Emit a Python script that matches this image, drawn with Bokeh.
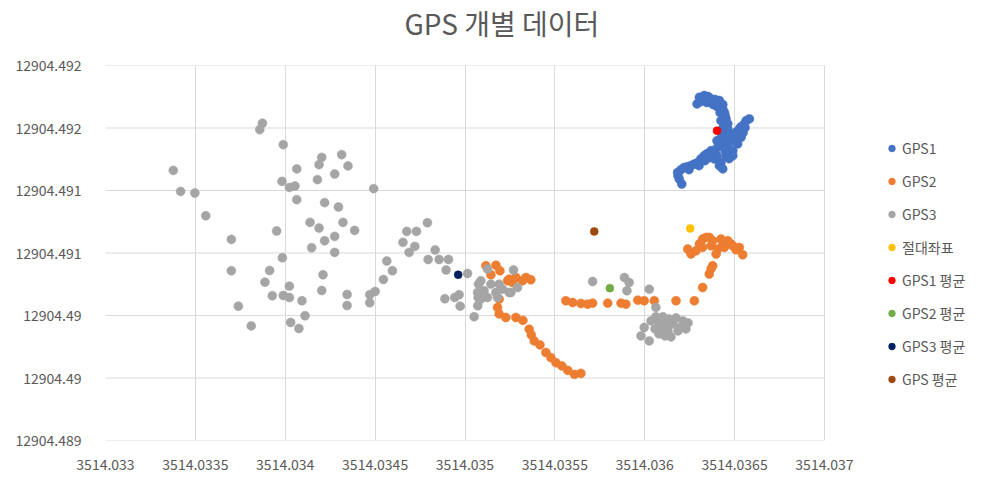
from bokeh.plotting import figure
from bokeh.models import (FixedTicker, CustomJSTickFormatter, Legend, LegendItem, Range1d, Title)
from bokeh.embed import file_html
from bokeh.resources import INLINE

# ---------------- data ----------------
gps1_x = [3514.036291, 3514.036304, 3514.036331, 3514.036352, 3514.036369, 3514.036391, 3514.036415, 3514.036434,
          3514.036434, 3514.036443, 3514.036447, 3514.036452, 3514.036462, 3514.036462, 3514.036452, 3514.036452,
          3514.036582, 3514.036564, 3514.036554, 3514.036536, 3514.036526, 3514.036508, 3514.036490, 3514.036474,
          3514.036517, 3514.036536,
          3514.036424, 3514.036443, 3514.036434, 3514.036462, 3514.036471, 3514.036490, 3514.036490, 3514.036452,
          3514.036406, 3514.036387, 3514.036424, 3514.036415, 3514.036434, 3514.036469,
          3514.036369, 3514.036346, 3514.036331, 3514.036313, 3514.036295, 3514.036274, 3514.036257, 3514.036238,
          3514.036220, 3514.036202, 3514.036183, 3514.036185, 3514.036192, 3514.036206,
          3514.036313, 3514.036346, 3514.036380, 3514.036402, 3514.036419, 3514.036424, 3514.036436, 3514.036424,
          3514.036558, 3514.036525, 3514.036497, 3514.036547,
          3514.036385, 3514.036402, 3514.036447, 3514.036469, 3514.036402,
          3514.036302, 3514.036335, 3514.036358, 3514.036246]
gps1_y = [12904.491693, 12904.491746, 12904.491760, 12904.491752, 12904.491733, 12904.491728, 12904.491720, 12904.491688,
          12904.491653, 12904.491626, 12904.491600, 12904.491573, 12904.491535, 12904.491493, 12904.491455, 12904.491413,
          12904.491573, 12904.491559, 12904.491533, 12904.491511, 12904.491493, 12904.491466, 12904.491439, 12904.491407,
          12904.491373, 12904.491426,
          12904.491413, 12904.491426, 12904.491359, 12904.491346, 12904.491319, 12904.491319, 12904.491279, 12904.491279,
          12904.491346, 12904.491253, 12904.491225, 12904.491199, 12904.491173, 12904.491383,
          12904.491319, 12904.491295, 12904.491279, 12904.491255, 12904.491225, 12904.491211, 12904.491199, 12904.491191,
          12904.491185, 12904.491167, 12904.491145, 12904.491119, 12904.491092, 12904.491052,
          12904.491712, 12904.491704, 12904.491688, 12904.491672, 12904.491623, 12904.491559, 12904.491503, 12904.491463,
          12904.491503, 12904.491455, 12904.491399, 12904.491463,
          12904.491319, 12904.491279, 12904.491319, 12904.491255, 12904.491399,
          12904.491199, 12904.491239, 12904.491263, 12904.491167]

gps2_x = [3514.035116, 3514.035172, 3514.035194, 3514.035144, 3514.035237, 3514.035283, 3514.035339, 3514.035366,
          3514.035265, 3514.035320, 3514.035246,
          3514.035190, 3514.035181, 3514.035190, 3514.035227, 3514.035283, 3514.035322, 3514.035357, 3514.035369,
          3514.035385, 3514.035417, 3514.035450, 3514.035478, 3514.035506, 3514.035539, 3514.035572, 3514.035609,
          3514.035645,
          3514.035561, 3514.035599, 3514.035645, 3514.035682, 3514.035710, 3514.035794, 3514.035868, 3514.035895,
          3514.035961, 3514.035997, 3514.036053, 3514.036174, 3514.036276, 3514.036322, 3514.036359, 3514.036378,
          3514.036397, 3514.036369,
          3514.036239, 3514.036257, 3514.036285, 3514.036304, 3514.036322, 3514.036322, 3514.036341, 3514.036359,
          3514.036369, 3514.036378, 3514.036406, 3514.036424, 3514.036434, 3514.036443, 3514.036462, 3514.036480,
          3514.036490, 3514.036526, 3514.036508, 3514.036545]
gps2_y = [12904.490398, 12904.490402, 12904.490358, 12904.490326, 12904.490278, 12904.490304, 12904.490304, 12904.490286,
          12904.490264, 12904.490278, 12904.490291,
          12904.490131, 12904.490064, 12904.490013, 12904.489984, 12904.489984, 12904.489961, 12904.489891, 12904.489845,
          12904.489797, 12904.489765, 12904.489704, 12904.489663, 12904.489623, 12904.489597, 12904.489561, 12904.489529,
          12904.489537,
          12904.490118, 12904.490104, 12904.490096, 12904.490091, 12904.490099, 12904.490099, 12904.490099, 12904.490091,
          12904.490123, 12904.490118, 12904.490118, 12904.490118, 12904.490118, 12904.490224, 12904.490332, 12904.490398,
          12904.490492, 12904.490374,
          12904.490532, 12904.490492, 12904.490518, 12904.490572, 12904.490612, 12904.490545, 12904.490625, 12904.490625,
          12904.490558, 12904.490598, 12904.490532, 12904.490612, 12904.490585, 12904.490545, 12904.490598, 12904.490572,
          12904.490558, 12904.490545, 12904.490526, 12904.490486]

gps3_x = [3514.033873, 3514.033858, 3514.033989, 3514.033377, 3514.033418, 3514.033497, 3514.033558, 3514.033700,
          3514.033700, 3514.033739, 3514.033811, 3514.033952, 3514.033984, 3514.033913, 3514.033887, 3514.033928,
          3514.033989, 3514.034023, 3514.034023, 3514.034093, 3514.034110, 3514.034030, 3514.034076, 3514.033982,
          3514.034023, 3514.034054, 3514.034064, 3514.034064, 3514.034203, 3514.034188, 3514.034314, 3514.034349,
          3514.034275, 3514.034179, 3514.034219, 3514.034296, 3514.034138, 3514.034188, 3514.034321, 3514.034386,
          3514.034219, 3514.034275, 3514.034147, 3514.034275, 3514.034210, 3514.034203, 3514.034344, 3514.034344,
          3514.034492, 3514.034470, 3514.034470, 3514.034500, 3514.034546, 3514.034596, 3514.034565, 3514.034655,
          3514.034689, 3514.034721, 3514.034676, 3514.034730, 3514.034791, 3514.034834, 3514.034795, 3514.034856,
          3514.034908, 3514.034895, 3514.034888, 3514.034943, 3514.034967, 3514.034973, 3514.035014, 3514.035051,
          3514.035071, 3514.035073, 3514.035075, 3514.035106, 3514.035125, 3514.035181, 3514.035209, 3514.035246,
          3514.035270, 3514.035292, 3514.035088, 3514.035125, 3514.035070, 3514.035144, 3514.035255, 3514.035088,
          3514.035172, 3514.035190,
          3514.035710, 3514.035887, 3514.035913, 3514.035901, 3514.036025, 3514.036062,
          3514.036062, 3514.036101, 3514.036135, 3514.036174, 3514.036213, 3514.036241, 3514.036079, 3514.036118,
          3514.036157, 3514.036202, 3514.036090, 3514.036129, 3514.036185, 3514.036229, 3514.036079, 3514.036113,
          3514.036146, 3514.036035, 3514.036057,
          3514.035997, 3514.035979, 3514.036025]
gps3_y = [12904.491538, 12904.491487, 12904.491367, 12904.491161, 12904.490993, 12904.490980, 12904.490798, 12904.490609,
          12904.490358, 12904.490075, 12904.489917, 12904.490676, 12904.490462, 12904.490360, 12904.490267, 12904.490158,
          12904.490160, 12904.490144, 12904.490235, 12904.490118, 12904.489998, 12904.489944, 12904.489896, 12904.491073,
          12904.491025, 12904.491036, 12904.491173, 12904.490927, 12904.491265, 12904.491207, 12904.491287, 12904.491197,
          12904.491132, 12904.491087, 12904.490903, 12904.490868, 12904.490745, 12904.490700, 12904.490745, 12904.490681,
          12904.490598, 12904.490633, 12904.490542, 12904.490505, 12904.490326, 12904.490200, 12904.490168, 12904.490080,
          12904.491015, 12904.490166, 12904.490102, 12904.490192, 12904.490288, 12904.490358, 12904.490436, 12904.490585,
          12904.490505, 12904.490553, 12904.490673, 12904.490673, 12904.490742, 12904.490524, 12904.490448, 12904.490448,
          12904.490448, 12904.490364, 12904.490134, 12904.490144, 12904.490166, 12904.490075, 12904.490336, 12904.489990,
          12904.490078, 12904.490144, 12904.490251, 12904.490198, 12904.490144, 12904.490144, 12904.490211, 12904.490184,
          12904.490364, 12904.490224, 12904.490278, 12904.490372, 12904.490184, 12904.490251, 12904.490184, 12904.490131,
          12904.490184, 12904.490251,
          12904.490272, 12904.490304, 12904.490264, 12904.490198, 12904.490211, 12904.490065,
          12904.489990, 12904.489990, 12904.489973, 12904.489981, 12904.489957, 12904.489941, 12904.489941, 12904.489925,
          12904.489933, 12904.489909, 12904.489893, 12904.489877, 12904.489877, 12904.489893, 12904.489853, 12904.489837,
          12904.489829, 12904.489957, 12904.489893,
          12904.489904, 12904.489837, 12904.489797]

abs_x = [3514.036253]
abs_y = [12904.490697]
gps1_avg_x = [3514.036402]
gps1_avg_y = [12904.491479]
gps2_avg_x = [3514.035806]
gps2_avg_y = [12904.490219]
gps3_avg_x = [3514.034962]
gps3_avg_y = [12904.490326]
gps_avg_x = [3514.035719]
gps_avg_y = [12904.490673]

x_ticks = [3514.033, 3514.0335, 3514.034, 3514.0345, 3514.035, 3514.0355, 3514.036, 3514.0365, 3514.037]
x_tick_labels = ["3514.033", "3514.0335", "3514.034", "3514.0345", "3514.035", "3514.0355", "3514.036",
                 "3514.0365", "3514.037"]
y_ticks = [12904.489, 12904.4895, 12904.49, 12904.4905, 12904.491, 12904.4915, 12904.492]
y_tick_labels = ["12904.489", "12904.49", "12904.49", "12904.491", "12904.491", "12904.492", "12904.492"]

FONT = "Noto Sans CJK KR"
TXT = "#595959"
GRID = "#D9D9D9"

# plot area spans 3514.033..3514.037; the frame extends further right to hold the legend
X0, X1 = x_ticks[0], x_ticks[-1]
x_extra = (X1 - X0) * 164.0 / 719.0

p = figure(width=988, height=478, output_backend="svg", toolbar_location=None,
           x_range=Range1d(X0, X1 + x_extra), y_range=Range1d(y_ticks[0], y_ticks[-1]),
           min_border_left=105, min_border_right=0, min_border_top=65, min_border_bottom=38)
p.outline_line_color = None
p.background_fill_color = "white"
p.border_fill_color = "white"

# spacer right above the frame, then the title above it
p.add_layout(Title(text=" ", text_font_size="1px", standoff=20), "above")
p.add_layout(Title(text="GPS 개별 데이터", text_font=FONT, text_font_size="28px",
                   text_font_style="normal", text_color=TXT, align="left", offset=299,
                   standoff=0, vertical_align="bottom"), "above")

fmt_code = """
let best = 0;
for (let i = 0; i < tvals.length; i++) {
  if (Math.abs(tvals[i] - tick) < Math.abs(tvals[best] - tick)) best = i;
}
return tlabels[best];
"""
p.xaxis.ticker = FixedTicker(ticks=x_ticks)
p.yaxis.ticker = FixedTicker(ticks=y_ticks)
p.xaxis.formatter = CustomJSTickFormatter(args=dict(tvals=x_ticks, tlabels=x_tick_labels), code=fmt_code)
p.yaxis.formatter = CustomJSTickFormatter(args=dict(tvals=y_ticks, tlabels=y_tick_labels), code=fmt_code)
p.xgrid.ticker = FixedTicker(ticks=x_ticks)
p.xgrid.grid_line_color = GRID
p.xgrid.grid_line_width = 1
p.ygrid.visible = False
# horizontal gridlines only across the plot area
p.segment(x0=[X0] * len(y_ticks), x1=[X1] * len(y_ticks), y0=y_ticks, y1=y_ticks,
          line_color=GRID, line_width=1)

for ax in (p.xaxis, p.yaxis):
    ax.axis_line_color = None
    ax.major_tick_line_color = None
    ax.minor_tick_line_color = None
    ax.major_tick_out = 0
    ax.major_tick_in = 0
    ax.major_label_text_font = FONT
    ax.major_label_text_font_size = "14px"
    ax.major_label_text_color = TXT
p.yaxis.major_label_standoff = 24
p.xaxis.major_label_standoff = 18

series = [
    ("GPS1", gps1_x, gps1_y, "#4472C4", 9),
    ("GPS2", gps2_x, gps2_y, "#ED7D31", 9),
    ("GPS3", gps3_x, gps3_y, "#A5A5A5", 9),
    ("절대좌표", abs_x, abs_y, "#FFC000", 8),
    ("GPS1 평균", gps1_avg_x, gps1_avg_y, "#FF0000", 8),
    ("GPS2 평균", gps2_avg_x, gps2_avg_y, "#70AD47", 8),
    ("GPS3 평균", gps3_avg_x, gps3_avg_y, "#002060", 8),
    ("GPS 평균", gps_avg_x, gps_avg_y, "#9E480E", 8),
]
items = []
for name, xs, ys, col, sz in series:
    r = p.scatter(xs, ys, size=sz, fill_color=col, line_color=col, line_width=0.5)
    items.append(LegendItem(label=name, renderers=[r]))

legend = Legend(items=items, location=(778, 51), orientation="vertical",
                glyph_width=17, glyph_height=20, label_height=20, spacing=13,
                padding=0, margin=0, border_line_color=None, background_fill_alpha=0,
                label_text_font=FONT, label_text_font_size="14px", label_text_color=TXT,
                label_standoff=2)
p.add_layout(legend)

open("out.html", "w").write(file_html(p, INLINE))
